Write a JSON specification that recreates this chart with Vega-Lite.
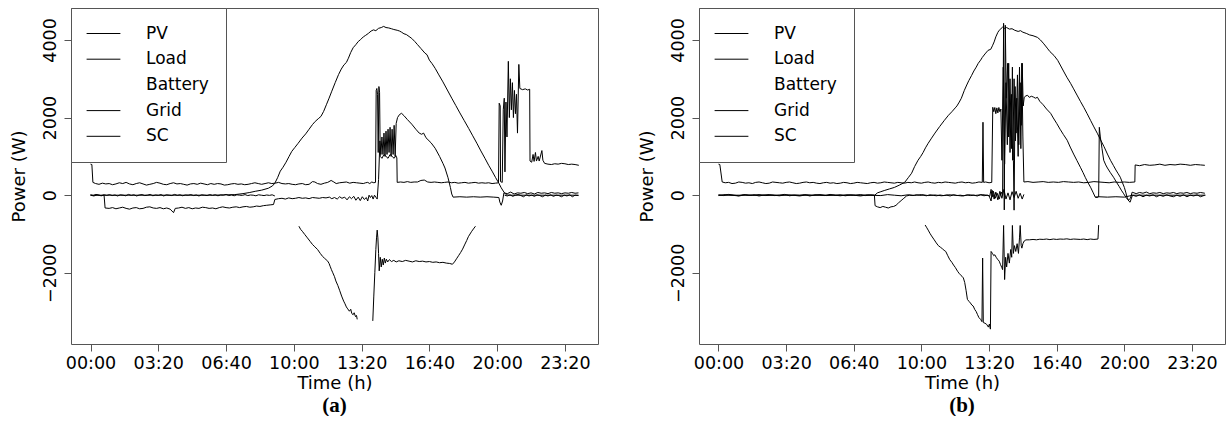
{
"$schema": "https://vega.github.io/schema/vega-lite/v6.json",
"padding": {"left": 9, "top": 7, "right": 0, "bottom": 0},
"background": "white",
"config": {
  "view": {"stroke": "#555", "strokeWidth": 1},
  "font": "DejaVu Sans",
  "axis": {"grid": false, "domain": false, "tickColor": "#555", "tickSize": 7, "labelFontSize": 17.5, "labelColor": "black", "titleFontSize": 18, "titleFontWeight": "normal", "titleColor": "black", "labelFont": "DejaVu Sans", "titleFont": "DejaVu Sans"}
},
"resolve": {"scale": {"color": "independent"}, "legend": {"color": "independent"}},
"spacing": 38,
"datasets": {
"a": [
{"s":"PV","t":0,"w":0},{"s":"PV","t":60,"w":0},{"s":"PV","t":120,"w":0},{"s":"PV","t":180,"w":0},{"s":"PV","t":240,"w":0},{"s":"PV","t":300,"w":0},{"s":"PV","t":360,"w":0},{"s":"PV","t":426,"w":15},{"s":"PV","t":450,"w":40},{"s":"PV","t":470,"w":70},{"s":"PV","t":486,"w":100},{"s":"PV","t":505,"w":130},{"s":"PV","t":525,"w":180},{"s":"PV","t":537,"w":240},{"s":"PV","t":544,"w":310},{"s":"PV","t":552,"w":450},{"s":"PV","t":560,"w":620},{"s":"PV","t":568,"w":720},{"s":"PV","t":577,"w":850},{"s":"PV","t":586,"w":1000},{"s":"PV","t":594,"w":1130},{"s":"PV","t":603,"w":1230},{"s":"PV","t":612,"w":1330},{"s":"PV","t":624,"w":1470},{"s":"PV","t":635,"w":1580},{"s":"PV","t":645,"w":1700},{"s":"PV","t":655,"w":1820},{"s":"PV","t":663,"w":1900},{"s":"PV","t":672,"w":1970},{"s":"PV","t":680,"w":2030},{"s":"PV","t":688,"w":2160},{"s":"PV","t":696,"w":2330},{"s":"PV","t":704,"w":2500},{"s":"PV","t":712,"w":2680},{"s":"PV","t":722,"w":2900},{"s":"PV","t":732,"w":3110},{"s":"PV","t":740,"w":3250},{"s":"PV","t":748,"w":3360},{"s":"PV","t":755,"w":3420},{"s":"PV","t":761,"w":3530},{"s":"PV","t":768,"w":3680},{"s":"PV","t":775,"w":3800},{"s":"PV","t":783,"w":3880},{"s":"PV","t":790,"w":3960},{"s":"PV","t":797,"w":4010},{"s":"PV","t":805,"w":4080},{"s":"PV","t":812,"w":4120},{"s":"PV","t":820,"w":4170},{"s":"PV","t":828,"w":4230},{"s":"PV","t":835,"w":4260},{"s":"PV","t":842,"w":4240},{"s":"PV","t":850,"w":4300},{"s":"PV","t":858,"w":4320},{"s":"PV","t":865,"w":4350},{"s":"PV","t":872,"w":4320},{"s":"PV","t":880,"w":4310},{"s":"PV","t":888,"w":4290},{"s":"PV","t":895,"w":4270},{"s":"PV","t":905,"w":4250},{"s":"PV","t":912,"w":4230},{"s":"PV","t":918,"w":4200},{"s":"PV","t":925,"w":4160},{"s":"PV","t":932,"w":4140},{"s":"PV","t":940,"w":4090},{"s":"PV","t":948,"w":4040},{"s":"PV","t":957,"w":3960},{"s":"PV","t":965,"w":3880},{"s":"PV","t":975,"w":3780},{"s":"PV","t":987,"w":3660},{"s":"PV","t":993,"w":3620},{"s":"PV","t":1000,"w":3480},{"s":"PV","t":1008,"w":3390},{"s":"PV","t":1017,"w":3270},{"s":"PV","t":1028,"w":3100},{"s":"PV","t":1040,"w":2920},{"s":"PV","t":1053,"w":2710},{"s":"PV","t":1066,"w":2500},{"s":"PV","t":1078,"w":2310},{"s":"PV","t":1090,"w":2120},{"s":"PV","t":1103,"w":1920},{"s":"PV","t":1116,"w":1720},{"s":"PV","t":1128,"w":1530},{"s":"PV","t":1140,"w":1340},{"s":"PV","t":1152,"w":1140},{"s":"PV","t":1164,"w":950},{"s":"PV","t":1175,"w":770},{"s":"PV","t":1185,"w":620},{"s":"PV","t":1195,"w":460},{"s":"PV","t":1205,"w":310},{"s":"PV","t":1212,"w":190},{"s":"PV","t":1220,"w":80},{"s":"PV","t":1227,"w":10},{"s":"PV","t":1235,"w":0},{"s":"PV","t":1300,"w":0},{"s":"PV","t":1440,"w":0},

{"s":"Load","t":0,"w":800},{"s":"Load","t":4,"w":790},{"s":"Load","t":7,"w":330},{"s":"Load","t":15,"w":300},{"s":"Load","t":25,"w":280},{"s":"Load","t":35,"w":310},{"s":"Load","t":45,"w":290},{"s":"Load","t":55,"w":300},{"s":"Load","t":65,"w":270},{"s":"Load","t":75,"w":290},{"s":"Load","t":85,"w":320},{"s":"Load","t":95,"w":300},{"s":"Load","t":105,"w":330},{"s":"Load","t":115,"w":290},{"s":"Load","t":125,"w":270},{"s":"Load","t":135,"w":300},{"s":"Load","t":145,"w":320},{"s":"Load","t":155,"w":290},{"s":"Load","t":165,"w":260},{"s":"Load","t":175,"w":280},{"s":"Load","t":185,"w":300},{"s":"Load","t":195,"w":330},{"s":"Load","t":205,"w":310},{"s":"Load","t":215,"w":280},{"s":"Load","t":225,"w":270},{"s":"Load","t":235,"w":300},{"s":"Load","t":245,"w":320},{"s":"Load","t":255,"w":290},{"s":"Load","t":265,"w":300},{"s":"Load","t":275,"w":280},{"s":"Load","t":285,"w":260},{"s":"Load","t":295,"w":290},{"s":"Load","t":305,"w":300},{"s":"Load","t":315,"w":280},{"s":"Load","t":325,"w":310},{"s":"Load","t":335,"w":290},{"s":"Load","t":345,"w":270},{"s":"Load","t":355,"w":300},{"s":"Load","t":365,"w":280},{"s":"Load","t":375,"w":300},{"s":"Load","t":385,"w":290},{"s":"Load","t":395,"w":260},{"s":"Load","t":405,"w":270},{"s":"Load","t":415,"w":290},{"s":"Load","t":425,"w":300},{"s":"Load","t":435,"w":280},{"s":"Load","t":445,"w":290},{"s":"Load","t":455,"w":270},{"s":"Load","t":465,"w":280},{"s":"Load","t":475,"w":300},{"s":"Load","t":485,"w":320},{"s":"Load","t":495,"w":300},{"s":"Load","t":505,"w":280},{"s":"Load","t":515,"w":300},{"s":"Load","t":525,"w":320},{"s":"Load","t":535,"w":300},{"s":"Load","t":545,"w":310},{"s":"Load","t":555,"w":330},{"s":"Load","t":565,"w":300},{"s":"Load","t":575,"w":290},{"s":"Load","t":585,"w":300},{"s":"Load","t":595,"w":280},{"s":"Load","t":605,"w":270},{"s":"Load","t":615,"w":290},{"s":"Load","t":625,"w":300},{"s":"Load","t":635,"w":270},{"s":"Load","t":645,"w":280},{"s":"Load","t":655,"w":350},{"s":"Load","t":662,"w":340},{"s":"Load","t":670,"w":300},{"s":"Load","t":680,"w":280},{"s":"Load","t":690,"w":310},{"s":"Load","t":700,"w":330},{"s":"Load","t":710,"w":380},{"s":"Load","t":718,"w":340},{"s":"Load","t":725,"w":300},{"s":"Load","t":735,"w":320},{"s":"Load","t":745,"w":330},{"s":"Load","t":755,"w":340},{"s":"Load","t":765,"w":310},{"s":"Load","t":775,"w":330},{"s":"Load","t":785,"w":320},{"s":"Load","t":795,"w":310},{"s":"Load","t":805,"w":300},{"s":"Load","t":812,"w":320},{"s":"Load","t":818,"w":330},{"s":"Load","t":824,"w":300},{"s":"Load","t":830,"w":340},{"s":"Load","t":836,"w":320},{"s":"Load","t":841,"w":330},{"s":"Load","t":843,"w":2700},{"s":"Load","t":845,"w":2750},{"s":"Load","t":847,"w":2600},{"s":"Load","t":849,"w":1100},{"s":"Load","t":851,"w":2800},{"s":"Load","t":853,"w":2650},{"s":"Load","t":855,"w":1000},{"s":"Load","t":860,"w":950},{"s":"Load","t":866,"w":1050},{"s":"Load","t":872,"w":1000},{"s":"Load","t":878,"w":950},{"s":"Load","t":884,"w":1050},{"s":"Load","t":890,"w":1000},{"s":"Load","t":896,"w":950},{"s":"Load","t":901,"w":1020},{"s":"Load","t":904,"w":960},{"s":"Load","t":905,"w":330},{"s":"Load","t":915,"w":340},{"s":"Load","t":925,"w":330},{"s":"Load","t":935,"w":350},{"s":"Load","t":945,"w":330},{"s":"Load","t":955,"w":340},{"s":"Load","t":965,"w":340},{"s":"Load","t":975,"w":380},{"s":"Load","t":985,"w":390},{"s":"Load","t":995,"w":340},{"s":"Load","t":1005,"w":330},{"s":"Load","t":1015,"w":340},{"s":"Load","t":1025,"w":330},{"s":"Load","t":1035,"w":320},{"s":"Load","t":1045,"w":330},{"s":"Load","t":1055,"w":340},{"s":"Load","t":1065,"w":320},{"s":"Load","t":1075,"w":330},{"s":"Load","t":1085,"w":310},{"s":"Load","t":1095,"w":320},{"s":"Load","t":1105,"w":330},{"s":"Load","t":1115,"w":310},{"s":"Load","t":1125,"w":320},{"s":"Load","t":1135,"w":330},{"s":"Load","t":1145,"w":310},{"s":"Load","t":1155,"w":320},{"s":"Load","t":1165,"w":310},{"s":"Load","t":1175,"w":320},{"s":"Load","t":1185,"w":300},{"s":"Load","t":1195,"w":310},{"s":"Load","t":1204,"w":320},{"s":"Load","t":1206,"w":2370},{"s":"Load","t":1209,"w":2300},{"s":"Load","t":1210,"w":350},{"s":"Load","t":1215,"w":330},{"s":"Load","t":1218,"w":2200},{"s":"Load","t":1221,"w":2500},{"s":"Load","t":1223,"w":600},{"s":"Load","t":1226,"w":2400},{"s":"Load","t":1229,"w":1500},{"s":"Load","t":1233,"w":3450},{"s":"Load","t":1236,"w":2000},{"s":"Load","t":1239,"w":3000},{"s":"Load","t":1242,"w":2200},{"s":"Load","t":1245,"w":2900},{"s":"Load","t":1248,"w":2000},{"s":"Load","t":1251,"w":2700},{"s":"Load","t":1254,"w":2100},{"s":"Load","t":1257,"w":2600},{"s":"Load","t":1260,"w":1600},{"s":"Load","t":1264,"w":3370},{"s":"Load","t":1267,"w":2750},{"s":"Load","t":1275,"w":2720},{"s":"Load","t":1283,"w":2740},{"s":"Load","t":1290,"w":2710},{"s":"Load","t":1296,"w":2730},{"s":"Load","t":1297,"w":880},{"s":"Load","t":1302,"w":850},{"s":"Load","t":1306,"w":1050},{"s":"Load","t":1309,"w":870},{"s":"Load","t":1313,"w":1100},{"s":"Load","t":1316,"w":880},{"s":"Load","t":1321,"w":1000},{"s":"Load","t":1324,"w":880},{"s":"Load","t":1332,"w":1150},{"s":"Load","t":1335,"w":900},{"s":"Load","t":1340,"w":820},{"s":"Load","t":1350,"w":800},{"s":"Load","t":1360,"w":790},{"s":"Load","t":1370,"w":810},{"s":"Load","t":1380,"w":800},{"s":"Load","t":1390,"w":820},{"s":"Load","t":1400,"w":810},{"s":"Load","t":1410,"w":790},{"s":"Load","t":1420,"w":800},{"s":"Load","t":1430,"w":790},{"s":"Load","t":1441,"w":770},

{"s":"Battery","t":0,"w":0},{"s":"Battery","t":10,"w":-20},{"s":"Battery","t":20,"w":10},{"s":"Battery","t":30,"w":-10},{"s":"Battery","t":40,"w":0},{"s":"Battery","t":43,"w":-330},{"s":"Battery","t":55,"w":-340},{"s":"Battery","t":65,"w":-320},{"s":"Battery","t":75,"w":-350},{"s":"Battery","t":85,"w":-330},{"s":"Battery","t":95,"w":-310},{"s":"Battery","t":105,"w":-340},{"s":"Battery","t":115,"w":-360},{"s":"Battery","t":125,"w":-330},{"s":"Battery","t":135,"w":-320},{"s":"Battery","t":145,"w":-350},{"s":"Battery","t":155,"w":-340},{"s":"Battery","t":165,"w":-310},{"s":"Battery","t":175,"w":-300},{"s":"Battery","t":185,"w":-330},{"s":"Battery","t":195,"w":-340},{"s":"Battery","t":205,"w":-320},{"s":"Battery","t":215,"w":-350},{"s":"Battery","t":225,"w":-330},{"s":"Battery","t":235,"w":-360},{"s":"Battery","t":245,"w":-450},{"s":"Battery","t":250,"w":-340},{"s":"Battery","t":260,"w":-330},{"s":"Battery","t":270,"w":-310},{"s":"Battery","t":280,"w":-340},{"s":"Battery","t":290,"w":-320},{"s":"Battery","t":300,"w":-350},{"s":"Battery","t":310,"w":-330},{"s":"Battery","t":320,"w":-340},{"s":"Battery","t":330,"w":-310},{"s":"Battery","t":340,"w":-320},{"s":"Battery","t":350,"w":-340},{"s":"Battery","t":360,"w":-330},{"s":"Battery","t":370,"w":-350},{"s":"Battery","t":380,"w":-320},{"s":"Battery","t":390,"w":-300},{"s":"Battery","t":400,"w":-320},{"s":"Battery","t":410,"w":-330},{"s":"Battery","t":420,"w":-310},{"s":"Battery","t":430,"w":-300},{"s":"Battery","t":440,"w":-320},{"s":"Battery","t":450,"w":-300},{"s":"Battery","t":460,"w":-290},{"s":"Battery","t":470,"w":-310},{"s":"Battery","t":480,"w":-300},{"s":"Battery","t":490,"w":-280},{"s":"Battery","t":500,"w":-290},{"s":"Battery","t":510,"w":-270},{"s":"Battery","t":520,"w":-260},{"s":"Battery","t":530,"w":-250},{"s":"Battery","t":540,"w":-240},{"s":"Battery","t":544,"w":-110},{"s":"Battery","t":555,"w":-90},{"s":"Battery","t":565,"w":-80},{"s":"Battery","t":575,"w":-100},{"s":"Battery","t":585,"w":-70},{"s":"Battery","t":595,"w":-90},{"s":"Battery","t":605,"w":-80},{"s":"Battery","t":615,"w":-60},{"s":"Battery","t":625,"w":-80},{"s":"Battery","t":635,"w":-70},{"s":"Battery","t":645,"w":-90},{"s":"Battery","t":655,"w":-60},{"s":"Battery","t":665,"w":-70},{"s":"Battery","t":675,"w":-80},{"s":"Battery","t":685,"w":-60},{"s":"Battery","t":695,"w":-70},{"s":"Battery","t":705,"w":-50},{"s":"Battery","t":712,"w":-90},{"s":"Battery","t":720,"w":-60},{"s":"Battery","t":728,"w":-100},{"s":"Battery","t":735,"w":-40},{"s":"Battery","t":742,"w":-80},{"s":"Battery","t":750,"w":-50},{"s":"Battery","t":757,"w":-120},{"s":"Battery","t":764,"w":-40},{"s":"Battery","t":770,"w":-90},{"s":"Battery","t":777,"w":-30},{"s":"Battery","t":783,"w":-130},{"s":"Battery","t":790,"w":-50},{"s":"Battery","t":796,"w":-140},{"s":"Battery","t":802,"w":-40},{"s":"Battery","t":808,"w":-110},{"s":"Battery","t":814,"w":-60},{"s":"Battery","t":818,"w":-150},{"s":"Battery","t":822,"w":0},{"s":"Battery","t":826,"w":-60},{"s":"Battery","t":830,"w":-10},{"s":"Battery","t":834,"w":-100},{"s":"Battery","t":838,"w":0},{"s":"Battery","t":842,"w":-50},{"s":"Battery","t":846,"w":-100},{"s":"Battery","t":850,"w":400},{"s":"Battery","t":854,"w":1400},{"s":"Battery","t":857,"w":1050},{"s":"Battery","t":860,"w":1500},{"s":"Battery","t":863,"w":1050},{"s":"Battery","t":866,"w":1600},{"s":"Battery","t":869,"w":1000},{"s":"Battery","t":872,"w":1650},{"s":"Battery","t":875,"w":1050},{"s":"Battery","t":878,"w":1700},{"s":"Battery","t":881,"w":1100},{"s":"Battery","t":884,"w":1750},{"s":"Battery","t":887,"w":1000},{"s":"Battery","t":890,"w":1700},{"s":"Battery","t":893,"w":1050},{"s":"Battery","t":896,"w":1800},{"s":"Battery","t":899,"w":1000},{"s":"Battery","t":902,"w":1850},{"s":"Battery","t":906,"w":2000},{"s":"Battery","t":912,"w":2080},{"s":"Battery","t":918,"w":2110},{"s":"Battery","t":925,"w":2050},{"s":"Battery","t":935,"w":1950},{"s":"Battery","t":948,"w":1830},{"s":"Battery","t":960,"w":1700},{"s":"Battery","t":970,"w":1600},{"s":"Battery","t":977,"w":1570},{"s":"Battery","t":983,"w":1600},{"s":"Battery","t":990,"w":1480},{"s":"Battery","t":1005,"w":1350},{"s":"Battery","t":1017,"w":1210},{"s":"Battery","t":1030,"w":1000},{"s":"Battery","t":1040,"w":820},{"s":"Battery","t":1046,"w":700},{"s":"Battery","t":1055,"w":450},{"s":"Battery","t":1062,"w":200},{"s":"Battery","t":1066,"w":30},{"s":"Battery","t":1070,"w":-50},{"s":"Battery","t":1090,"w":-40},{"s":"Battery","t":1110,"w":-50},{"s":"Battery","t":1130,"w":-40},{"s":"Battery","t":1150,"w":-50},{"s":"Battery","t":1170,"w":-40},{"s":"Battery","t":1190,"w":-50},{"s":"Battery","t":1205,"w":-60},{"s":"Battery","t":1208,"w":-180},{"s":"Battery","t":1212,"w":-260},{"s":"Battery","t":1216,"w":-150},{"s":"Battery","t":1220,"w":60},{"s":"Battery","t":1230,"w":40},{"s":"Battery","t":1240,"w":80},{"s":"Battery","t":1250,"w":30},{"s":"Battery","t":1260,"w":60},{"s":"Battery","t":1270,"w":50},{"s":"Battery","t":1280,"w":70},{"s":"Battery","t":1290,"w":40},{"s":"Battery","t":1300,"w":60},{"s":"Battery","t":1310,"w":30},{"s":"Battery","t":1320,"w":70},{"s":"Battery","t":1330,"w":50},{"s":"Battery","t":1340,"w":60},{"s":"Battery","t":1350,"w":40},{"s":"Battery","t":1360,"w":70},{"s":"Battery","t":1370,"w":50},{"s":"Battery","t":1380,"w":60},{"s":"Battery","t":1390,"w":40},{"s":"Battery","t":1400,"w":60},{"s":"Battery","t":1410,"w":50},{"s":"Battery","t":1420,"w":70},{"s":"Battery","t":1430,"w":50},{"s":"Battery","t":1440,"w":60},

{"s":"Grid","t":615,"w":-800},{"s":"Grid","t":620,"w":-880},{"s":"Grid","t":625,"w":-930},{"s":"Grid","t":632,"w":-1010},{"s":"Grid","t":640,"w":-1100},{"s":"Grid","t":648,"w":-1190},{"s":"Grid","t":655,"w":-1270},{"s":"Grid","t":662,"w":-1330},{"s":"Grid","t":670,"w":-1400},{"s":"Grid","t":678,"w":-1500},{"s":"Grid","t":685,"w":-1580},{"s":"Grid","t":690,"w":-1620},{"s":"Grid","t":695,"w":-1660},{"s":"Grid","t":700,"w":-1700},{"s":"Grid","t":704,"w":-1760},{"s":"Grid","t":707,"w":-1830},{"s":"Grid","t":711,"w":-1920},{"s":"Grid","t":715,"w":-2000},{"s":"Grid","t":720,"w":-2100},{"s":"Grid","t":724,"w":-2210},{"s":"Grid","t":730,"w":-2330},{"s":"Grid","t":735,"w":-2450},{"s":"Grid","t":741,"w":-2600},{"s":"Grid","t":747,"w":-2730},{"s":"Grid","t":751,"w":-2800},{"s":"Grid","t":755,"w":-2880},{"s":"Grid","t":759,"w":-2930},{"s":"Grid","t":764,"w":-2990},{"s":"Grid","t":768,"w":-2940},{"s":"Grid","t":771,"w":-3050},{"s":"Grid","t":775,"w":-3080},{"s":"Grid","t":778,"w":-3030},{"s":"Grid","t":782,"w":-3130},{"s":"Grid","t":785,"w":-3100},{"s":"Grid","t":787,"w":-3200},{"s":"Grid","t":810,"w":null},{"s":"Grid","t":833,"w":-3240},{"s":"Grid","t":836,"w":-2600},{"s":"Grid","t":839,"w":-2000},{"s":"Grid","t":842,"w":-1400},{"s":"Grid","t":844,"w":-1100},{"s":"Grid","t":846,"w":-900},{"s":"Grid","t":848,"w":-1100},{"s":"Grid","t":850,"w":-1500},{"s":"Grid","t":852,"w":-1950},{"s":"Grid","t":855,"w":-1600},{"s":"Grid","t":858,"w":-1850},{"s":"Grid","t":861,"w":-1650},{"s":"Grid","t":864,"w":-1800},{"s":"Grid","t":867,"w":-1620},{"s":"Grid","t":870,"w":-1750},{"s":"Grid","t":873,"w":-1650},{"s":"Grid","t":877,"w":-1720},{"s":"Grid","t":882,"w":-1660},{"s":"Grid","t":888,"w":-1710},{"s":"Grid","t":895,"w":-1680},{"s":"Grid","t":902,"w":-1720},{"s":"Grid","t":910,"w":-1690},{"s":"Grid","t":920,"w":-1710},{"s":"Grid","t":930,"w":-1680},{"s":"Grid","t":940,"w":-1700},{"s":"Grid","t":950,"w":-1720},{"s":"Grid","t":960,"w":-1690},{"s":"Grid","t":970,"w":-1710},{"s":"Grid","t":980,"w":-1700},{"s":"Grid","t":990,"w":-1720},{"s":"Grid","t":1000,"w":-1710},{"s":"Grid","t":1010,"w":-1730},{"s":"Grid","t":1020,"w":-1720},{"s":"Grid","t":1030,"w":-1740},{"s":"Grid","t":1040,"w":-1730},{"s":"Grid","t":1050,"w":-1750},{"s":"Grid","t":1060,"w":-1760},{"s":"Grid","t":1068,"w":-1780},{"s":"Grid","t":1074,"w":-1720},{"s":"Grid","t":1080,"w":-1640},{"s":"Grid","t":1086,"w":-1560},{"s":"Grid","t":1092,"w":-1480},{"s":"Grid","t":1098,"w":-1390},{"s":"Grid","t":1105,"w":-1260},{"s":"Grid","t":1110,"w":-1170},{"s":"Grid","t":1115,"w":-1070},{"s":"Grid","t":1120,"w":-1000},{"s":"Grid","t":1125,"w":-930},{"s":"Grid","t":1130,"w":-870},{"s":"Grid","t":1136,"w":-800},

{"s":"SC","t":0,"w":10},{"s":"SC","t":8,"w":-10},{"s":"SC","t":16,"w":20},{"s":"SC","t":24,"w":0},{"s":"SC","t":32,"w":-15},{"s":"SC","t":40,"w":10},{"s":"SC","t":48,"w":-5},{"s":"SC","t":56,"w":15},{"s":"SC","t":64,"w":-10},{"s":"SC","t":72,"w":5},{"s":"SC","t":80,"w":-20},{"s":"SC","t":88,"w":10},{"s":"SC","t":96,"w":0},{"s":"SC","t":104,"w":-15},{"s":"SC","t":112,"w":20},{"s":"SC","t":120,"w":-5},{"s":"SC","t":128,"w":10},{"s":"SC","t":136,"w":-20},{"s":"SC","t":144,"w":5},{"s":"SC","t":152,"w":15},{"s":"SC","t":160,"w":-10},{"s":"SC","t":168,"w":0},{"s":"SC","t":176,"w":20},{"s":"SC","t":184,"w":-15},{"s":"SC","t":192,"w":5},{"s":"SC","t":200,"w":-5},{"s":"SC","t":208,"w":15},{"s":"SC","t":216,"w":-20},{"s":"SC","t":224,"w":10},{"s":"SC","t":232,"w":0},{"s":"SC","t":240,"w":-10},{"s":"SC","t":248,"w":20},{"s":"SC","t":256,"w":-5},{"s":"SC","t":264,"w":10},{"s":"SC","t":272,"w":-15},{"s":"SC","t":280,"w":5},{"s":"SC","t":288,"w":0},{"s":"SC","t":296,"w":15},{"s":"SC","t":304,"w":-10},{"s":"SC","t":312,"w":5},{"s":"SC","t":320,"w":-20},{"s":"SC","t":328,"w":10},{"s":"SC","t":336,"w":0},{"s":"SC","t":344,"w":-10},{"s":"SC","t":352,"w":15},{"s":"SC","t":360,"w":-5},{"s":"SC","t":368,"w":10},{"s":"SC","t":376,"w":-15},{"s":"SC","t":384,"w":5},{"s":"SC","t":392,"w":0},{"s":"SC","t":400,"w":20},{"s":"SC","t":408,"w":-10},{"s":"SC","t":416,"w":5},{"s":"SC","t":424,"w":-15},{"s":"SC","t":432,"w":10},{"s":"SC","t":440,"w":0},{"s":"SC","t":448,"w":-5},{"s":"SC","t":456,"w":15},{"s":"SC","t":464,"w":-10},{"s":"SC","t":472,"w":5},{"s":"SC","t":480,"w":0},{"s":"SC","t":488,"w":-15},{"s":"SC","t":496,"w":10},{"s":"SC","t":504,"w":0},{"s":"SC","t":512,"w":-10},{"s":"SC","t":520,"w":5},{"s":"SC","t":528,"w":-5},{"s":"SC","t":536,"w":10},{"s":"SC","t":544,"w":-20},{"s":"SC","t":800,"w":null},{"s":"SC","t":1222,"w":0},{"s":"SC","t":1230,"w":-20},{"s":"SC","t":1238,"w":10},{"s":"SC","t":1246,"w":-30},{"s":"SC","t":1254,"w":0},{"s":"SC","t":1262,"w":20},{"s":"SC","t":1270,"w":-10},{"s":"SC","t":1278,"w":-40},{"s":"SC","t":1286,"w":10},{"s":"SC","t":1294,"w":-20},{"s":"SC","t":1302,"w":0},{"s":"SC","t":1310,"w":-30},{"s":"SC","t":1318,"w":10},{"s":"SC","t":1326,"w":-10},{"s":"SC","t":1334,"w":-40},{"s":"SC","t":1342,"w":0},{"s":"SC","t":1350,"w":-20},{"s":"SC","t":1358,"w":10},{"s":"SC","t":1366,"w":-30},{"s":"SC","t":1374,"w":0},{"s":"SC","t":1382,"w":-10},{"s":"SC","t":1390,"w":-40},{"s":"SC","t":1398,"w":0},{"s":"SC","t":1406,"w":-20},{"s":"SC","t":1414,"w":10},{"s":"SC","t":1422,"w":-40},{"s":"SC","t":1430,"w":0},{"s":"SC","t":1440,"w":-10}
],
"b": [
{"s":"PV","t":0,"w":0},{"s":"PV","t":100,"w":0},{"s":"PV","t":200,"w":0},{"s":"PV","t":300,"w":0},{"s":"PV","t":400,"w":0},{"s":"PV","t":462,"w":0},{"s":"PV","t":470,"w":60},{"s":"PV","t":480,"w":90},{"s":"PV","t":490,"w":120},{"s":"PV","t":505,"w":160},{"s":"PV","t":520,"w":200},{"s":"PV","t":535,"w":260},{"s":"PV","t":551,"w":335},{"s":"PV","t":561,"w":450},{"s":"PV","t":571,"w":566},{"s":"PV","t":580,"w":740},{"s":"PV","t":590,"w":900},{"s":"PV","t":598,"w":1000},{"s":"PV","t":605,"w":1100},{"s":"PV","t":612,"w":1220},{"s":"PV","t":620,"w":1338},{"s":"PV","t":630,"w":1470},{"s":"PV","t":640,"w":1600},{"s":"PV","t":654,"w":1770},{"s":"PV","t":668,"w":1930},{"s":"PV","t":680,"w":2060},{"s":"PV","t":690,"w":2150},{"s":"PV","t":700,"w":2250},{"s":"PV","t":705,"w":2300},{"s":"PV","t":712,"w":2400},{"s":"PV","t":718,"w":2497},{"s":"PV","t":727,"w":2703},{"s":"PV","t":734,"w":2840},{"s":"PV","t":740,"w":2950},{"s":"PV","t":748,"w":3080},{"s":"PV","t":755,"w":3200},{"s":"PV","t":762,"w":3300},{"s":"PV","t":768,"w":3398},{"s":"PV","t":775,"w":3480},{"s":"PV","t":780,"w":3550},{"s":"PV","t":788,"w":3640},{"s":"PV","t":797,"w":3732},{"s":"PV","t":805,"w":3760},{"s":"PV","t":810,"w":3850},{"s":"PV","t":815,"w":3950},{"s":"PV","t":820,"w":4080},{"s":"PV","t":826,"w":4196},{"s":"PV","t":830,"w":4250},{"s":"PV","t":835,"w":4290},{"s":"PV","t":840,"w":4330},{"s":"PV","t":845,"w":4300},{"s":"PV","t":852,"w":4320},{"s":"PV","t":860,"w":4280},{"s":"PV","t":868,"w":4290},{"s":"PV","t":876,"w":4250},{"s":"PV","t":886,"w":4220},{"s":"PV","t":893,"w":4240},{"s":"PV","t":900,"w":4200},{"s":"PV","t":910,"w":4170},{"s":"PV","t":920,"w":4130},{"s":"PV","t":930,"w":4110},{"s":"PV","t":943,"w":4067},{"s":"PV","t":952,"w":4000},{"s":"PV","t":962,"w":3900},{"s":"PV","t":972,"w":3790},{"s":"PV","t":980,"w":3700},{"s":"PV","t":992,"w":3600},{"s":"PV","t":1003,"w":3475},{"s":"PV","t":1012,"w":3330},{"s":"PV","t":1020,"w":3200},{"s":"PV","t":1030,"w":3040},{"s":"PV","t":1041,"w":2883},{"s":"PV","t":1050,"w":2740},{"s":"PV","t":1060,"w":2580},{"s":"PV","t":1070,"w":2420},{"s":"PV","t":1080,"w":2265},{"s":"PV","t":1090,"w":2100},{"s":"PV","t":1100,"w":1930},{"s":"PV","t":1110,"w":1760},{"s":"PV","t":1120,"w":1596},{"s":"PV","t":1130,"w":1420},{"s":"PV","t":1140,"w":1250},{"s":"PV","t":1150,"w":1060},{"s":"PV","t":1159,"w":900},{"s":"PV","t":1168,"w":760},{"s":"PV","t":1175,"w":650},{"s":"PV","t":1182,"w":550},{"s":"PV","t":1188,"w":463},{"s":"PV","t":1194,"w":330},{"s":"PV","t":1200,"w":200},{"s":"PV","t":1204,"w":80},{"s":"PV","t":1208,"w":-51},{"s":"PV","t":1213,"w":-150},{"s":"PV","t":1217,"w":-180},{"s":"PV","t":1220,"w":-100},{"s":"PV","t":1224,"w":0},{"s":"PV","t":1300,"w":0},{"s":"PV","t":1440,"w":0},

{"s":"Load","t":0,"w":800},{"s":"Load","t":4,"w":790},{"s":"Load","t":11,"w":340},{"s":"Load","t":20,"w":320},{"s":"Load","t":30,"w":330},{"s":"Load","t":40,"w":300},{"s":"Load","t":50,"w":310},{"s":"Load","t":60,"w":340},{"s":"Load","t":70,"w":330},{"s":"Load","t":80,"w":310},{"s":"Load","t":90,"w":320},{"s":"Load","t":100,"w":300},{"s":"Load","t":110,"w":330},{"s":"Load","t":120,"w":340},{"s":"Load","t":130,"w":320},{"s":"Load","t":140,"w":300},{"s":"Load","t":150,"w":310},{"s":"Load","t":160,"w":340},{"s":"Load","t":170,"w":330},{"s":"Load","t":180,"w":320},{"s":"Load","t":190,"w":310},{"s":"Load","t":200,"w":330},{"s":"Load","t":210,"w":340},{"s":"Load","t":220,"w":320},{"s":"Load","t":230,"w":300},{"s":"Load","t":240,"w":310},{"s":"Load","t":250,"w":330},{"s":"Load","t":260,"w":340},{"s":"Load","t":270,"w":320},{"s":"Load","t":280,"w":330},{"s":"Load","t":290,"w":310},{"s":"Load","t":300,"w":300},{"s":"Load","t":310,"w":320},{"s":"Load","t":320,"w":330},{"s":"Load","t":330,"w":310},{"s":"Load","t":340,"w":320},{"s":"Load","t":350,"w":300},{"s":"Load","t":360,"w":310},{"s":"Load","t":370,"w":330},{"s":"Load","t":380,"w":320},{"s":"Load","t":390,"w":300},{"s":"Load","t":400,"w":310},{"s":"Load","t":410,"w":330},{"s":"Load","t":420,"w":320},{"s":"Load","t":430,"w":310},{"s":"Load","t":440,"w":300},{"s":"Load","t":450,"w":320},{"s":"Load","t":460,"w":330},{"s":"Load","t":470,"w":310},{"s":"Load","t":480,"w":320},{"s":"Load","t":490,"w":340},{"s":"Load","t":500,"w":330},{"s":"Load","t":510,"w":320},{"s":"Load","t":520,"w":310},{"s":"Load","t":530,"w":330},{"s":"Load","t":540,"w":320},{"s":"Load","t":550,"w":310},{"s":"Load","t":560,"w":330},{"s":"Load","t":570,"w":320},{"s":"Load","t":580,"w":340},{"s":"Load","t":590,"w":320},{"s":"Load","t":600,"w":310},{"s":"Load","t":610,"w":330},{"s":"Load","t":620,"w":340},{"s":"Load","t":630,"w":320},{"s":"Load","t":640,"w":310},{"s":"Load","t":650,"w":330},{"s":"Load","t":660,"w":320},{"s":"Load","t":670,"w":340},{"s":"Load","t":680,"w":330},{"s":"Load","t":690,"w":320},{"s":"Load","t":700,"w":310},{"s":"Load","t":710,"w":330},{"s":"Load","t":720,"w":340},{"s":"Load","t":730,"w":320},{"s":"Load","t":740,"w":330},{"s":"Load","t":750,"w":310},{"s":"Load","t":760,"w":320},{"s":"Load","t":770,"w":340},{"s":"Load","t":780,"w":330},{"s":"Load","t":782,"w":1880},{"s":"Load","t":784,"w":330},{"s":"Load","t":790,"w":340},{"s":"Load","t":800,"w":320},{"s":"Load","t":808,"w":330},{"s":"Load","t":811,"w":2265},{"s":"Load","t":814,"w":2150},{"s":"Load","t":817,"w":2260},{"s":"Load","t":820,"w":2100},{"s":"Load","t":823,"w":2250},{"s":"Load","t":826,"w":2120},{"s":"Load","t":829,"w":2260},{"s":"Load","t":832,"w":2150},{"s":"Load","t":835,"w":2220},{"s":"Load","t":838,"w":900},{"s":"Load","t":842,"w":3300},{"s":"Load","t":846,"w":800},{"s":"Load","t":850,"w":2900},{"s":"Load","t":854,"w":1300},{"s":"Load","t":858,"w":3400},{"s":"Load","t":862,"w":1100},{"s":"Load","t":866,"w":2600},{"s":"Load","t":870,"w":900},{"s":"Load","t":874,"w":3000},{"s":"Load","t":878,"w":1400},{"s":"Load","t":882,"w":2500},{"s":"Load","t":886,"w":1000},{"s":"Load","t":890,"w":3300},{"s":"Load","t":894,"w":1200},{"s":"Load","t":897,"w":3400},{"s":"Load","t":900,"w":1500},{"s":"Load","t":903,"w":340},{"s":"Load","t":915,"w":350},{"s":"Load","t":930,"w":330},{"s":"Load","t":945,"w":340},{"s":"Load","t":960,"w":350},{"s":"Load","t":975,"w":330},{"s":"Load","t":990,"w":340},{"s":"Load","t":1005,"w":330},{"s":"Load","t":1020,"w":350},{"s":"Load","t":1035,"w":340},{"s":"Load","t":1050,"w":330},{"s":"Load","t":1065,"w":340},{"s":"Load","t":1080,"w":320},{"s":"Load","t":1095,"w":330},{"s":"Load","t":1110,"w":350},{"s":"Load","t":1125,"w":340},{"s":"Load","t":1140,"w":330},{"s":"Load","t":1155,"w":320},{"s":"Load","t":1170,"w":340},{"s":"Load","t":1185,"w":330},{"s":"Load","t":1200,"w":340},{"s":"Load","t":1215,"w":330},{"s":"Load","t":1231,"w":340},{"s":"Load","t":1232,"w":780},{"s":"Load","t":1245,"w":760},{"s":"Load","t":1260,"w":790},{"s":"Load","t":1275,"w":770},{"s":"Load","t":1290,"w":780},{"s":"Load","t":1305,"w":800},{"s":"Load","t":1320,"w":770},{"s":"Load","t":1335,"w":790},{"s":"Load","t":1350,"w":780},{"s":"Load","t":1365,"w":800},{"s":"Load","t":1380,"w":790},{"s":"Load","t":1395,"w":770},{"s":"Load","t":1410,"w":790},{"s":"Load","t":1425,"w":780},{"s":"Load","t":1438,"w":770},

{"s":"Battery","t":0,"w":10},{"s":"Battery","t":15,"w":-10},{"s":"Battery","t":30,"w":20},{"s":"Battery","t":45,"w":0},{"s":"Battery","t":60,"w":-15},{"s":"Battery","t":75,"w":15},{"s":"Battery","t":90,"w":-5},{"s":"Battery","t":105,"w":10},{"s":"Battery","t":120,"w":-20},{"s":"Battery","t":135,"w":5},{"s":"Battery","t":150,"w":15},{"s":"Battery","t":165,"w":-10},{"s":"Battery","t":180,"w":0},{"s":"Battery","t":195,"w":20},{"s":"Battery","t":210,"w":-15},{"s":"Battery","t":225,"w":5},{"s":"Battery","t":240,"w":-5},{"s":"Battery","t":255,"w":15},{"s":"Battery","t":270,"w":-20},{"s":"Battery","t":285,"w":10},{"s":"Battery","t":300,"w":0},{"s":"Battery","t":315,"w":-10},{"s":"Battery","t":330,"w":20},{"s":"Battery","t":345,"w":-5},{"s":"Battery","t":360,"w":10},{"s":"Battery","t":375,"w":-15},{"s":"Battery","t":390,"w":5},{"s":"Battery","t":405,"w":0},{"s":"Battery","t":420,"w":15},{"s":"Battery","t":435,"w":-10},{"s":"Battery","t":450,"w":5},{"s":"Battery","t":461,"w":0},{"s":"Battery","t":463,"w":-270},{"s":"Battery","t":470,"w":-300},{"s":"Battery","t":478,"w":-320},{"s":"Battery","t":486,"w":-290},{"s":"Battery","t":494,"w":-310},{"s":"Battery","t":502,"w":-330},{"s":"Battery","t":510,"w":-300},{"s":"Battery","t":518,"w":-290},{"s":"Battery","t":525,"w":-260},{"s":"Battery","t":532,"w":-200},{"s":"Battery","t":540,"w":-140},{"s":"Battery","t":548,"w":-80},{"s":"Battery","t":556,"w":-20},{"s":"Battery","t":565,"w":0},{"s":"Battery","t":575,"w":-10},{"s":"Battery","t":585,"w":10},{"s":"Battery","t":595,"w":-5},{"s":"Battery","t":605,"w":0},{"s":"Battery","t":615,"w":-15},{"s":"Battery","t":625,"w":10},{"s":"Battery","t":635,"w":-5},{"s":"Battery","t":645,"w":-15},{"s":"Battery","t":655,"w":5},{"s":"Battery","t":665,"w":-10},{"s":"Battery","t":675,"w":0},{"s":"Battery","t":685,"w":-20},{"s":"Battery","t":695,"w":10},{"s":"Battery","t":705,"w":-10},{"s":"Battery","t":715,"w":0},{"s":"Battery","t":725,"w":-15},{"s":"Battery","t":735,"w":5},{"s":"Battery","t":745,"w":-10},{"s":"Battery","t":755,"w":0},{"s":"Battery","t":765,"w":-20},{"s":"Battery","t":775,"w":10},{"s":"Battery","t":785,"w":-15},{"s":"Battery","t":795,"w":0},{"s":"Battery","t":802,"w":-30},{"s":"Battery","t":806,"w":150},{"s":"Battery","t":809,"w":-50},{"s":"Battery","t":813,"w":100},{"s":"Battery","t":818,"w":-80},{"s":"Battery","t":824,"w":50},{"s":"Battery","t":830,"w":-100},{"s":"Battery","t":836,"w":80},{"s":"Battery","t":840,"w":0},{"s":"Battery","t":843,"w":4430},{"s":"Battery","t":845,"w":-380},{"s":"Battery","t":848,"w":4380},{"s":"Battery","t":851,"w":2500},{"s":"Battery","t":855,"w":3400},{"s":"Battery","t":858,"w":1500},{"s":"Battery","t":862,"w":3000},{"s":"Battery","t":866,"w":1200},{"s":"Battery","t":869,"w":3300},{"s":"Battery","t":872,"w":900},{"s":"Battery","t":874,"w":-386},{"s":"Battery","t":877,"w":2800},{"s":"Battery","t":880,"w":1600},{"s":"Battery","t":884,"w":3100},{"s":"Battery","t":888,"w":1300},{"s":"Battery","t":892,"w":2900},{"s":"Battery","t":895,"w":1800},{"s":"Battery","t":898,"w":3400},{"s":"Battery","t":901,"w":2300},{"s":"Battery","t":904,"w":2523},{"s":"Battery","t":909,"w":2560},{"s":"Battery","t":914,"w":2574},{"s":"Battery","t":919,"w":2520},{"s":"Battery","t":925,"w":2550},{"s":"Battery","t":931,"w":2530},{"s":"Battery","t":937,"w":2500},{"s":"Battery","t":943,"w":2523},{"s":"Battery","t":950,"w":2420},{"s":"Battery","t":960,"w":2330},{"s":"Battery","t":970,"w":2220},{"s":"Battery","t":982,"w":2110},{"s":"Battery","t":990,"w":1990},{"s":"Battery","t":1000,"w":1850},{"s":"Battery","t":1010,"w":1700},{"s":"Battery","t":1020,"w":1560},{"s":"Battery","t":1031,"w":1416},{"s":"Battery","t":1040,"w":1240},{"s":"Battery","t":1050,"w":1060},{"s":"Battery","t":1060,"w":890},{"s":"Battery","t":1070,"w":720},{"s":"Battery","t":1078,"w":580},{"s":"Battery","t":1085,"w":450},{"s":"Battery","t":1092,"w":330},{"s":"Battery","t":1100,"w":206},{"s":"Battery","t":1107,"w":80},{"s":"Battery","t":1114,"w":-51},{"s":"Battery","t":1120,"w":-60},{"s":"Battery","t":1124,"w":-40},{"s":"Battery","t":1126,"w":1750},{"s":"Battery","t":1129,"w":1500},{"s":"Battery","t":1134,"w":1200},{"s":"Battery","t":1139,"w":900},{"s":"Battery","t":1145,"w":780},{"s":"Battery","t":1150,"w":700},{"s":"Battery","t":1158,"w":590},{"s":"Battery","t":1168,"w":463},{"s":"Battery","t":1177,"w":330},{"s":"Battery","t":1185,"w":220},{"s":"Battery","t":1191,"w":130},{"s":"Battery","t":1197,"w":51},{"s":"Battery","t":1205,"w":-60},{"s":"Battery","t":1212,"w":-129},{"s":"Battery","t":1218,"w":-80},{"s":"Battery","t":1223,"w":77},{"s":"Battery","t":1235,"w":40},{"s":"Battery","t":1245,"w":70},{"s":"Battery","t":1255,"w":50},{"s":"Battery","t":1265,"w":80},{"s":"Battery","t":1275,"w":40},{"s":"Battery","t":1285,"w":60},{"s":"Battery","t":1295,"w":50},{"s":"Battery","t":1305,"w":70},{"s":"Battery","t":1315,"w":40},{"s":"Battery","t":1325,"w":60},{"s":"Battery","t":1335,"w":50},{"s":"Battery","t":1345,"w":70},{"s":"Battery","t":1355,"w":40},{"s":"Battery","t":1365,"w":60},{"s":"Battery","t":1375,"w":50},{"s":"Battery","t":1385,"w":70},{"s":"Battery","t":1395,"w":40},{"s":"Battery","t":1405,"w":60},{"s":"Battery","t":1415,"w":50},{"s":"Battery","t":1425,"w":70},{"s":"Battery","t":1438,"w":50},

{"s":"Grid","t":611,"w":-768},{"s":"Grid","t":616,"w":-840},{"s":"Grid","t":620,"w":-900},{"s":"Grid","t":625,"w":-980},{"s":"Grid","t":630,"w":-1050},{"s":"Grid","t":638,"w":-1152},{"s":"Grid","t":644,"w":-1230},{"s":"Grid","t":650,"w":-1300},{"s":"Grid","t":656,"w":-1340},{"s":"Grid","t":662,"w":-1380},{"s":"Grid","t":667,"w":-1420},{"s":"Grid","t":672,"w":-1450},{"s":"Grid","t":678,"w":-1560},{"s":"Grid","t":684,"w":-1663},{"s":"Grid","t":690,"w":-1730},{"s":"Grid","t":695,"w":-1800},{"s":"Grid","t":700,"w":-1860},{"s":"Grid","t":707,"w":-1961},{"s":"Grid","t":711,"w":-2010},{"s":"Grid","t":715,"w":-2050},{"s":"Grid","t":720,"w":-2090},{"s":"Grid","t":724,"w":-2132},{"s":"Grid","t":728,"w":-2250},{"s":"Grid","t":732,"w":-2450},{"s":"Grid","t":736,"w":-2686},{"s":"Grid","t":741,"w":-2740},{"s":"Grid","t":745,"w":-2780},{"s":"Grid","t":749,"w":-2830},{"s":"Grid","t":753,"w":-2856},{"s":"Grid","t":758,"w":-2950},{"s":"Grid","t":762,"w":-3000},{"s":"Grid","t":766,"w":-3080},{"s":"Grid","t":770,"w":-3154},{"s":"Grid","t":775,"w":-3200},{"s":"Grid","t":779,"w":-3260},{"s":"Grid","t":781,"w":-1620},{"s":"Grid","t":783,"w":-3282},{"s":"Grid","t":788,"w":-3300},{"s":"Grid","t":793,"w":-3330},{"s":"Grid","t":798,"w":-3400},{"s":"Grid","t":801,"w":-3320},{"s":"Grid","t":804,"w":-3452},{"s":"Grid","t":806,"w":-1450},{"s":"Grid","t":810,"w":-1500},{"s":"Grid","t":814,"w":-1560},{"s":"Grid","t":817,"w":-1535},{"s":"Grid","t":821,"w":-1600},{"s":"Grid","t":825,"w":-1650},{"s":"Grid","t":830,"w":-1700},{"s":"Grid","t":834,"w":-1791},{"s":"Grid","t":838,"w":-1870},{"s":"Grid","t":840,"w":-1919},{"s":"Grid","t":843,"w":-780},{"s":"Grid","t":846,"w":-2174},{"s":"Grid","t":849,"w":-1600},{"s":"Grid","t":852,"w":-1850},{"s":"Grid","t":856,"w":-1500},{"s":"Grid","t":860,"w":-1750},{"s":"Grid","t":864,"w":-1400},{"s":"Grid","t":867,"w":-1600},{"s":"Grid","t":869,"w":-780},{"s":"Grid","t":872,"w":-1500},{"s":"Grid","t":875,"w":-1300},{"s":"Grid","t":879,"w":-1450},{"s":"Grid","t":883,"w":-1250},{"s":"Grid","t":887,"w":-1500},{"s":"Grid","t":890,"w":-1100},{"s":"Grid","t":892,"w":-780},{"s":"Grid","t":895,"w":-1300},{"s":"Grid","t":897,"w":-1365},{"s":"Grid","t":900,"w":-1250},{"s":"Grid","t":904,"w":-1180},{"s":"Grid","t":909,"w":-1152},{"s":"Grid","t":920,"w":-1150},{"s":"Grid","t":930,"w":-1140},{"s":"Grid","t":940,"w":-1150},{"s":"Grid","t":950,"w":-1135},{"s":"Grid","t":960,"w":-1140},{"s":"Grid","t":970,"w":-1130},{"s":"Grid","t":980,"w":-1145},{"s":"Grid","t":990,"w":-1130},{"s":"Grid","t":1000,"w":-1140},{"s":"Grid","t":1010,"w":-1130},{"s":"Grid","t":1020,"w":-1135},{"s":"Grid","t":1030,"w":-1125},{"s":"Grid","t":1040,"w":-1140},{"s":"Grid","t":1050,"w":-1130},{"s":"Grid","t":1060,"w":-1135},{"s":"Grid","t":1070,"w":-1140},{"s":"Grid","t":1080,"w":-1130},{"s":"Grid","t":1090,"w":-1145},{"s":"Grid","t":1100,"w":-1130},{"s":"Grid","t":1110,"w":-1140},{"s":"Grid","t":1122,"w":-1130},{"s":"Grid","t":1124,"w":-770},

{"s":"SC","t":0,"w":-10},{"s":"SC","t":20,"w":15},{"s":"SC","t":40,"w":0},{"s":"SC","t":60,"w":-20},{"s":"SC","t":80,"w":10},{"s":"SC","t":100,"w":-5},{"s":"SC","t":120,"w":15},{"s":"SC","t":140,"w":-10},{"s":"SC","t":160,"w":5},{"s":"SC","t":180,"w":-15},{"s":"SC","t":200,"w":10},{"s":"SC","t":220,"w":0},{"s":"SC","t":240,"w":-20},{"s":"SC","t":260,"w":10},{"s":"SC","t":280,"w":-5},{"s":"SC","t":300,"w":15},{"s":"SC","t":320,"w":-10},{"s":"SC","t":340,"w":5},{"s":"SC","t":360,"w":-15},{"s":"SC","t":380,"w":10},{"s":"SC","t":400,"w":0},{"s":"SC","t":420,"w":-20},{"s":"SC","t":440,"w":10},{"s":"SC","t":460,"w":-5},{"s":"SC","t":480,"w":-10},{"s":"SC","t":500,"w":15},{"s":"SC","t":520,"w":0},{"s":"SC","t":540,"w":-15},{"s":"SC","t":560,"w":10},{"s":"SC","t":580,"w":-5},{"s":"SC","t":600,"w":15},{"s":"SC","t":620,"w":-10},{"s":"SC","t":640,"w":5},{"s":"SC","t":660,"w":-15},{"s":"SC","t":680,"w":10},{"s":"SC","t":700,"w":0},{"s":"SC","t":720,"w":-20},{"s":"SC","t":740,"w":10},{"s":"SC","t":760,"w":-5},{"s":"SC","t":780,"w":15},{"s":"SC","t":800,"w":-10},{"s":"SC","t":806,"w":-150},{"s":"SC","t":810,"w":120},{"s":"SC","t":815,"w":-100},{"s":"SC","t":820,"w":80},{"s":"SC","t":826,"w":-120},{"s":"SC","t":832,"w":100},{"s":"SC","t":838,"w":-80},{"s":"SC","t":844,"w":150},{"s":"SC","t":850,"w":-100},{"s":"SC","t":856,"w":60},{"s":"SC","t":862,"w":-120},{"s":"SC","t":868,"w":90},{"s":"SC","t":874,"w":-60},{"s":"SC","t":880,"w":100},{"s":"SC","t":886,"w":-80},{"s":"SC","t":892,"w":50},{"s":"SC","t":898,"w":-100},{"s":"SC","t":903,"w":20},{"s":"SC","t":1000,"w":null},{"s":"SC","t":1114,"w":-50},{"s":"SC","t":1124,"w":-40},{"s":"SC","t":1150,"w":-50},{"s":"SC","t":1175,"w":-40},{"s":"SC","t":1200,"w":-50},{"s":"SC","t":1215,"w":-20},{"s":"SC","t":1225,"w":0},{"s":"SC","t":1235,"w":-30},{"s":"SC","t":1245,"w":10},{"s":"SC","t":1255,"w":-40},{"s":"SC","t":1265,"w":0},{"s":"SC","t":1275,"w":-20},{"s":"SC","t":1285,"w":10},{"s":"SC","t":1295,"w":-40},{"s":"SC","t":1305,"w":0},{"s":"SC","t":1315,"w":-30},{"s":"SC","t":1325,"w":10},{"s":"SC","t":1335,"w":-20},{"s":"SC","t":1345,"w":-40},{"s":"SC","t":1355,"w":0},{"s":"SC","t":1365,"w":-30},{"s":"SC","t":1375,"w":10},{"s":"SC","t":1385,"w":-40},{"s":"SC","t":1395,"w":0},{"s":"SC","t":1405,"w":-20},{"s":"SC","t":1415,"w":10},{"s":"SC","t":1425,"w":-40},{"s":"SC","t":1438,"w":0}
]
},
"hconcat": [
{
  "data": {"name": "a"},
  "width": 527, "height": 336,
  "title": {"text": "(a)", "orient": "bottom", "font": "Liberation Serif", "fontSize": 21, "fontWeight": "bold", "offset": 2, "anchor": "middle", "color": "black"},
  "mark": {"type": "line", "strokeWidth": 1, "clip": true, "invalid": "break-paths-show-domains"},
  "encoding": {
    "x": {"field": "t", "type": "quantitative", "scale": {"domain": [-57.6, 1497.6], "nice": false, "zero": false},
      "axis": {"title": "Time (h)", "values": [0,200,400,600,800,1000,1200,1400], "labelExpr": "(floor(datum.value/60) < 10 ? '0' : '') + floor(datum.value/60) + ':' + (datum.value % 60 < 10 ? '0' : '') + (datum.value % 60)", "labelPadding": 3, "titlePadding": 3, "labelFlush": false, "labelOverlap": false}},
    "y": {"field": "w", "type": "quantitative", "scale": {"domain": [-3835, 4824], "nice": false, "zero": false},
      "axis": {"title": "Power (W)", "values": [-2000,0,2000,4000], "format": "d", "labelAngle": -90, "labelAlign": "center", "labelBaseline": "bottom", "labelPadding": 5, "minExtent": 40, "maxExtent": 40, "titlePadding": 3}},
    "color": {"field": "s", "type": "nominal", "scale": {"domain": ["PV","Load","Battery","Grid","SC"], "range": ["black","black","black","black","black"]},
      "legend": {"title": null, "orient": "top-left", "offset": 0, "padding": 17, "fillColor": "white", "strokeColor": "#555", "cornerRadius": 0, "symbolType": "M-2.6,0H2.6", "symbolSize": 169, "symbolStrokeWidth": 1, "symbolStrokeColor": "black", "symbolFillColor": "transparent", "symbolOffset": 7, "labelOffset": 34, "labelFontSize": 17, "labelFont": "DejaVu Sans", "labelColor": "black", "rowPadding": 7.7,
        "encode": {"symbols": {"update": {"opacity": {"signal": "datum.value === 'Battery' ? 0 : 1"}}}}}}
  }
},
{
  "data": {"name": "b"},
  "width": 526, "height": 336,
  "title": {"text": "(b)", "orient": "bottom", "font": "Liberation Serif", "fontSize": 21, "fontWeight": "bold", "offset": 2, "anchor": "middle", "color": "black"},
  "mark": {"type": "line", "strokeWidth": 1, "clip": true, "invalid": "break-paths-show-domains"},
  "encoding": {
    "x": {"field": "t", "type": "quantitative", "scale": {"domain": [-57.6, 1497.6], "nice": false, "zero": false},
      "axis": {"title": "Time (h)", "values": [0,200,400,600,800,1000,1200,1400], "labelExpr": "(floor(datum.value/60) < 10 ? '0' : '') + floor(datum.value/60) + ':' + (datum.value % 60 < 10 ? '0' : '') + (datum.value % 60)", "labelPadding": 3, "titlePadding": 3, "labelFlush": false, "labelOverlap": false}},
    "y": {"field": "w", "type": "quantitative", "scale": {"domain": [-3835, 4824], "nice": false, "zero": false},
      "axis": {"title": "Power (W)", "values": [-2000,0,2000,4000], "format": "d", "labelAngle": -90, "labelAlign": "center", "labelBaseline": "bottom", "labelPadding": 5, "minExtent": 40, "maxExtent": 40, "titlePadding": 3}},
    "color": {"field": "s", "type": "nominal", "scale": {"domain": ["PV","Load","Battery","Grid","SC"], "range": ["black","black","black","black","black"]},
      "legend": {"title": null, "orient": "top-left", "offset": 0, "padding": 17, "fillColor": "white", "strokeColor": "#555", "cornerRadius": 0, "symbolType": "M-2.6,0H2.6", "symbolSize": 169, "symbolStrokeWidth": 1, "symbolStrokeColor": "black", "symbolFillColor": "transparent", "symbolOffset": 7, "labelOffset": 34, "labelFontSize": 17, "labelFont": "DejaVu Sans", "labelColor": "black", "rowPadding": 7.7,
        "encode": {"symbols": {"update": {"opacity": {"signal": "datum.value === 'Battery' ? 0 : 1"}}}}}}
  }
}
]
}
